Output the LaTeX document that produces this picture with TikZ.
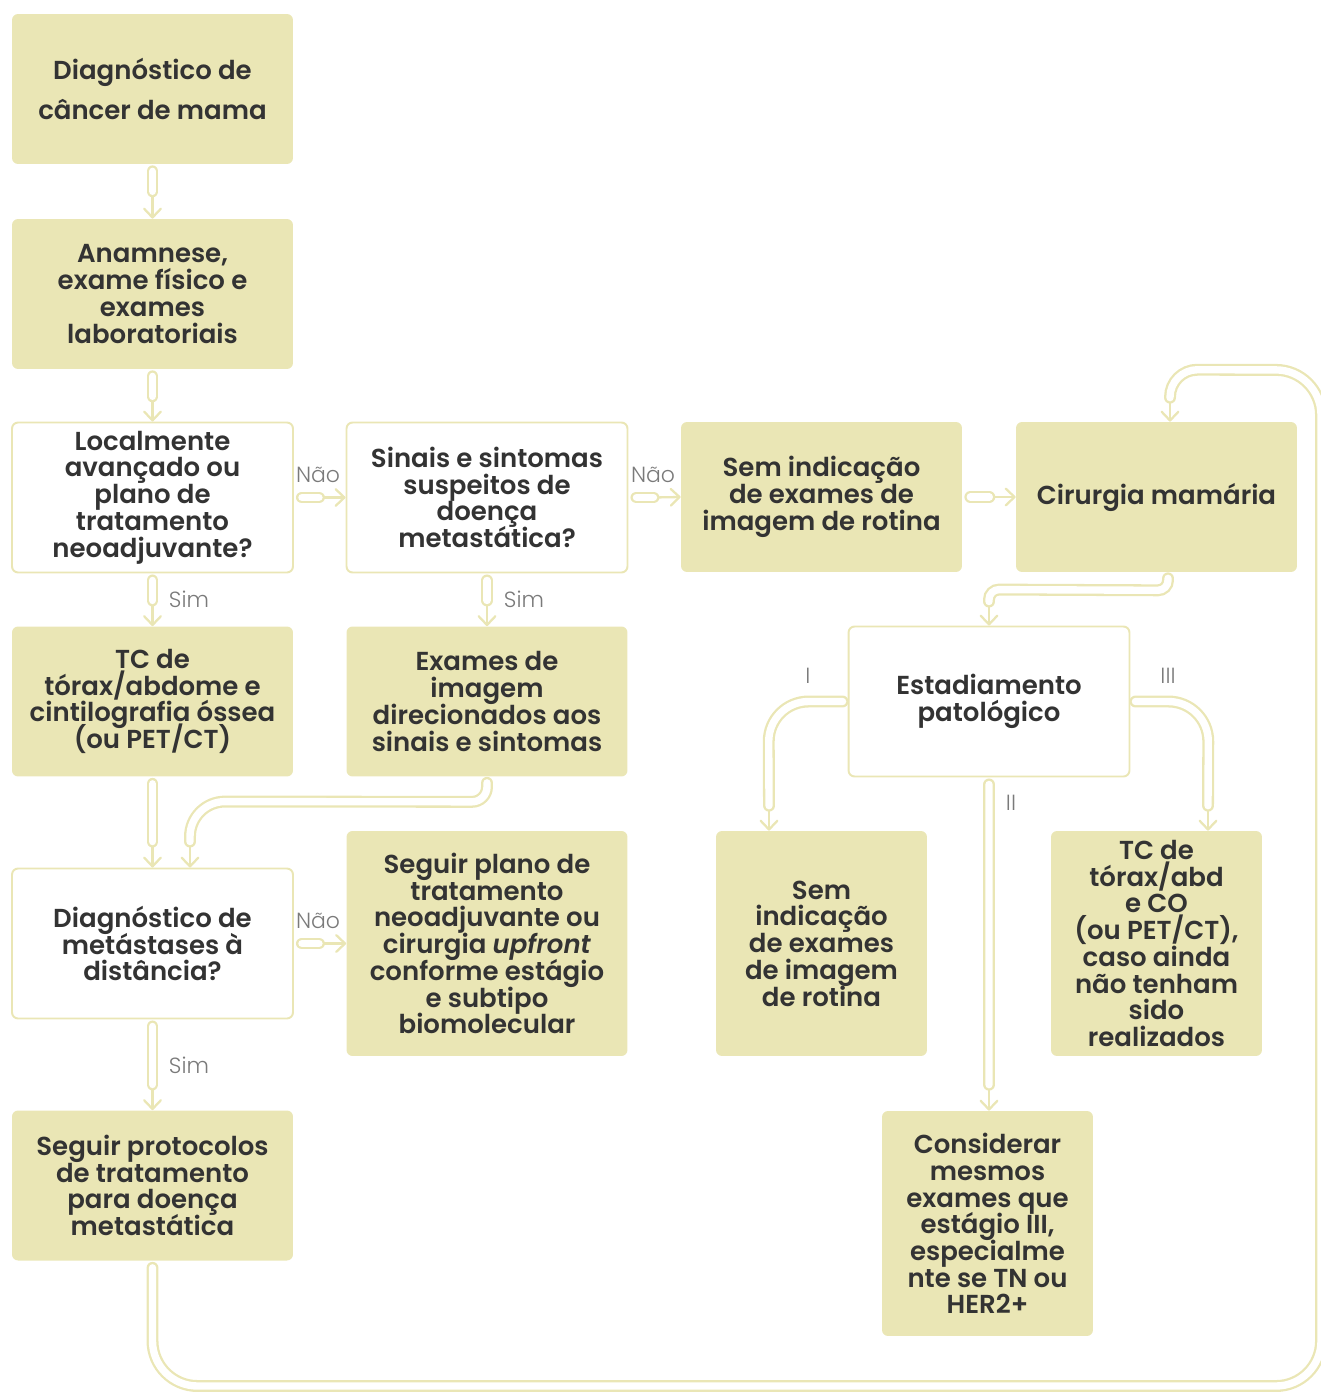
\documentclass[tikz,border=0pt]{standalone}
\usepackage{fontspec}
\setmainfont{Poppins}[BoldFont={Poppins SemiBold},BoldItalicFont={Poppins SemiBold Italic}]
\newfontfamily\mamalight{Poppins Light}
\newcommand\mamatight{\lineskiplimit=-20pt\relax}
\usetikzlibrary{arrows.meta,calc}
\definecolor{mamakhaki}{HTML}{EAE6B5}
\definecolor{mamatext}{HTML}{333333}
\definecolor{mamalabel}{HTML}{7A7A7A}
\tikzset{
  stagebox/.style={minimum width=5.62cm,minimum height=3cm,rounded corners=0.12cm,align=center,inner sep=0pt,text=mamatext,font=\bfseries\fontsize{14.8}{15.2}\selectfont\mamatight},
  solidbox/.style={stagebox,fill=mamakhaki},
  askbox/.style={stagebox,draw=mamakhaki,line width=1.1pt,fill=white},
  pipe/.style={draw=mamakhaki,line width=1.3pt,double=white,double distance=4.2pt,line cap=round},
  tip/.style={draw=mamakhaki,line width=1.3pt,-{Straight Barb[length=5pt,width=9.5pt,round]}},
  answer/.style={text=mamalabel,font=\mamalight\fontsize{12.5}{12.5}\selectfont}
}
\begin{document}
\begin{tikzpicture}[x=0.02cm,y=-0.02cm]
  \useasboundingbox (0,0) rectangle (1320,1392);
  \node[solidbox,font=\bfseries\fontsize{14.8}{23}\selectfont] (diag) at (152.5,89) {Diagnóstico de\\câncer de mama};
  \node[solidbox] (anam) at (152.5,294) {Anamnese,\\exame físico e\\exames\\laboratoriais};
  \node[askbox] (local) at (152.5,497.5) {Localmente\\avançado ou\\plano de\\tratamento\\neoadjuvante?};
  \node[askbox] (sinais) at (487,497.5) {Sinais e sintomas\\suspeitos de\\doença\\metastática?};
  \node[solidbox] (semrot) at (821.5,497) {Sem indicação\\de exames de\\imagem de rotina};
  \node[solidbox] (cirurgia) at (1156.5,497) {Cirurgia mamária};
  \node[solidbox] (tctorax) at (152.5,701.5) {TC de\\tórax/abdome e\\cintilografia óssea\\(ou PET/CT)};
  \node[solidbox] (direc) at (487,701.5) {Exames de\\imagem\\direcionados aos\\sinais e sintomas};
  \node[askbox] (estad) at (989,701.5) {Estadiamento\\patológico};
  \node[askbox] (metast) at (152.5,943.5) {Diagnóstico de\\metástases à\\distância?};
  \node[solidbox,minimum height=4.5cm] (plano) at (487,943.5) {Seguir plano de\\tratamento\\neoadjuvante ou\\cirurgia \textit{upfront}\\conforme estágio\\e subtipo\\biomolecular};
  \node[solidbox,minimum width=4.22cm,minimum height=4.5cm] (semest) at (821.5,943.5) {Sem\\indicação\\de exames\\de imagem\\de rotina};
  \node[solidbox,minimum width=4.22cm,minimum height=4.5cm] (tcabd) at (1156.5,943.5) {TC de\\tórax/abd\\e CO\\(ou PET/CT),\\caso ainda\\não tenham\\sido\\realizados};
  \node[solidbox] (protoc) at (152.5,1185.5) {Seguir protocolos\\de tratamento\\para doença\\metastática};
  \node[solidbox,minimum width=4.22cm,minimum height=4.5cm] (consid) at (987.5,1223.5) {Considerar\\mesmos\\exames que\\estágio III,\\especialme\\nte se TN ou\\HER2+};

  \draw[tip] ($(diag.south)+(0,27)$) -- (anam.north);
  \draw[pipe] ($(diag.south)+(0,7)$) -- ($(diag.south)+(0,27)$);
  \draw[tip] ($(anam.south)+(0,27)$) -- (local.north);
  \draw[pipe] ($(anam.south)+(0,7)$) -- ($(anam.south)+(0,27)$);
  \draw[tip] ($(local.east)+(25,0)$) -- (sinais.west);
  \draw[pipe] ($(local.east)+(8,0)$) -- ($(local.east)+(25,0)$);
  \draw[tip] ($(sinais.east)+(25,0)$) -- (semrot.west);
  \draw[pipe] ($(sinais.east)+(8,0)$) -- ($(sinais.east)+(25,0)$);
  \draw[tip] ($(semrot.east)+(27,0)$) -- (cirurgia.west);
  \draw[pipe] ($(semrot.east)+(8,0)$) -- ($(semrot.east)+(27,0)$);
  \draw[tip] ($(local.south)+(0,27)$) -- (tctorax.north);
  \draw[pipe] ($(local.south)+(0,7)$) -- ($(local.south)+(0,27)$);
  \draw[tip] ($(sinais.south)+(0,27)$) -- (direc.north);
  \draw[pipe] ($(sinais.south)+(0,7)$) -- ($(sinais.south)+(0,27)$);
  \draw[tip] ($(estad.north)+(0,-24)$) -- (estad.north);
  \draw[pipe,rounded corners=0.2cm] ($(cirurgia.south)+(11.5,6)$) -- ($(cirurgia.south)+(11.5,18)$) -- ($(estad.north)+(0,-36)$) -- ($(estad.north)+(0,-24)$);
  \draw[tip] ($(semest.north)+(-52.5,-25)$) -- ($(semest.north)+(-52.5,0)$);
  \draw[pipe,rounded corners=0.8cm] ($(estad.west)+(-5,0)$) -- ($(estad.west)+(-79,0)$) -- ($(semest.north)+(-52.5,-25)$);
  \draw[tip] ($(tcabd.north)+(51.5,-25)$) -- ($(tcabd.north)+(51.5,0)$);
  \draw[pipe,rounded corners=0.8cm] ($(estad.east)+(5,0)$) -- ($(estad.east)+(78,0)$) -- ($(tcabd.north)+(51.5,-25)$);
  \draw[tip] ($(consid.north)+(1.5,-26)$) -- ($(consid.north)+(1.5,0)$);
  \draw[pipe] ($(estad.south)+(0,7)$) -- ($(consid.north)+(1.5,-26)$);
  \draw[tip] ($(metast.north)+(0,-26)$) -- (metast.north);
  \draw[pipe] ($(tctorax.south)+(0,7)$) -- ($(metast.north)+(0,-26)$);
  \draw[tip] ($(metast.north)+(37.5,-26)$) -- ($(metast.north)+(37.5,0)$);
  \draw[pipe,rounded corners=0.3cm] ($(direc.south)+(0,6)$) -- ($(direc.south)+(0,25)$) [rounded corners=0.7cm] -- ($(metast.north)+(37.5,-66)$) -- ($(metast.north)+(37.5,-26)$);
  \draw[tip] ($(metast.east)+(25,0)$) -- (plano.west);
  \draw[pipe] ($(metast.east)+(8,0)$) -- ($(metast.east)+(25,0)$);
  \draw[tip] ($(metast.south)+(0,65)$) -- (protoc.north);
  \draw[pipe] ($(metast.south)+(0,7)$) -- ($(metast.south)+(0,65)$);
  \draw[tip] ($(cirurgia.north)+(13.5,-24)$) -- ($(cirurgia.north)+(13.5,0)$);
  \draw[pipe,rounded corners=0.9cm] ($(protoc.south)+(0,7)$) -- (152.5,1386) -- (1321,1386) -- (1321,370) [rounded corners=0.55cm] -- ($(cirurgia.north)+(13.5,-52)$) -- ($(cirurgia.north)+(13.5,-24)$);

  \node[answer] (nao1) at (318,475) {Não};
  \node[answer] (nao2) at (653,475) {Não};
  \node[answer] (nao3) at (318,921) {Não};
  \node[answer] (sim1) at (189,599) {Sim};
  \node[answer] (sim2) at (524,599) {Sim};
  \node[answer] (sim3) at (189,1065) {Sim};
  \node[answer] (est1) at (808,676) {I};
  \node[answer] (est2) at (1011,803) {II};
  \node[answer] (est3) at (1168,676) {III};
\end{tikzpicture}
\end{document}
